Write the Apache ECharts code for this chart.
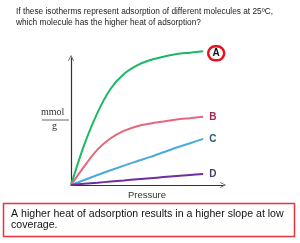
<!DOCTYPE html>
<html>
<head>
<meta charset="utf-8">
<script src="https://cdn.jsdelivr.net/npm/echarts@6/dist/echarts.min.js"></script>
<style>
  html, body { margin: 0; padding: 0; background: #fff; }
  #chart { width: 300px; height: 243px; }
</style>
</head>
<body>
<div id="chart"></div>
<script>
// pressure values (arbitrary units) and uptake
const pressure = [0, 1, 2, 3, 4, 5, 6, 7, 8, 9, 10];
const uptakeA = [0, 3.0, 5.4, 7.2, 8.3, 8.95, 9.35, 9.6, 9.8, 9.9, 10.0];
const uptakeB = [0, 1.4, 2.65, 3.5, 4.05, 4.4, 4.6, 4.75, 4.9, 5.0, 5.1];
const uptakeC = [0, 0.37, 0.75, 1.1, 1.45, 1.78, 2.1, 2.45, 2.8, 3.12, 3.45];
const uptakeD = [0, 0.09, 0.17, 0.26, 0.34, 0.43, 0.51, 0.59, 0.67, 0.75, 0.83];

const names = ['A', 'B', 'C', 'D'];
const lineColors = ['#1db865', '#e2687e', '#4ba9dc', '#6f2d9e'];
const labelColors = ['#111', '#a3294d', '#23577a', '#4b3a6e'];

const titleLines = [
  'If these isotherms represent adsorption of different molecules at 25\u00baC,',
  'which molecule has the higher heat of adsorption?'
];
const noteLines = [
  'A higher heat of adsorption results in a higher slope at low',
  'coverage.'
];

const pairs = ys => pressure.map((x, i) => [x, ys[i]]);
const seriesData = [pairs(uptakeA), pairs(uptakeB), pairs(uptakeC), pairs(uptakeD)];

// open chevron arrow for the axes
const chevron = 'path://M0,10 L5,0 L10,10 L9,10.6 L5,2.4 L1,10.6 Z';

const chart = echarts.init(document.getElementById('chart'));

const series = seriesData.map((data, i) => {
  const endLabel = {
    show: true,
    formatter: names[i],
    color: labelColors[i],
    fontFamily: 'Liberation Sans',
    fontWeight: 'bold',
    fontSize: 10,
    distance: 6
  };
  if (i === 0) {
    // circled answer
    Object.assign(endLabel, {
      borderColor: '#e8101c',
      borderWidth: 2.5,
      borderRadius: 10,
      width: 14,
      height: 12,
      align: 'center',
      verticalAlign: 'middle',
      padding: [1, 1, 1, 1],
      distance: 3,
      offset: [10, 2]
    });
  }
  return {
    type: 'line',
    name: names[i],
    data,
    smooth: 0.3,
    showSymbol: false,
    clip: false,
    silent: true,
    lineStyle: { color: lineColors[i], width: 2 },
    endLabel
  };
});

const option = {
  animation: false,
  title: {
    text: titleLines.join('\n'),
    left: 11,
    top: 1,
    textStyle: {
      fontFamily: 'Liberation Sans',
      fontSize: 8.3,
      fontWeight: 'normal',
      color: '#222',
      lineHeight: 11
    }
  },
  grid: { left: 71, top: 58, width: 152, height: 127 },
  xAxis: {
    type: 'value',
    min: 0,
    max: 11.5,
    name: 'Pressure',
    nameLocation: 'middle',
    nameGap: 5,
    nameTextStyle: { fontFamily: 'Liberation Sans', fontSize: 9.5, color: '#333' },
    axisLine: {
      lineStyle: { color: '#333', width: 1.2 },
      symbol: ['none', chevron],
      symbolSize: [9, 6]
    },
    axisTick: { show: false },
    axisLabel: { show: false },
    splitLine: { show: false }
  },
  yAxis: {
    type: 'value',
    min: 0,
    max: 9.5,
    axisLine: {
      show: true,
      lineStyle: { color: '#333', width: 1.2 },
      symbol: ['none', chevron],
      symbolSize: [9, 6]
    },
    axisTick: { show: false },
    axisLabel: { show: false },
    splitLine: { show: false }
  },
  graphic: [
    {
      type: 'text', left: 41, top: 107,
      style: { text: 'mmol', font: '10px "Liberation Serif"', fill: '#333' }
    },
    {
      type: 'line', shape: { x1: 42, y1: 120, x2: 69, y2: 120 },
      style: { stroke: '#555', lineWidth: 0.9 }
    },
    {
      type: 'text', left: 52, top: 121,
      style: { text: 'g', font: '10px "Liberation Serif"', fill: '#333' }
    },
    {
      type: 'rect', shape: { x: 3.5, y: 203.5, width: 291, height: 33 },
      style: { fill: '#fff', stroke: '#e8323c', lineWidth: 1.5 }
    },
    {
      type: 'text', left: 11, top: 208,
      style: {
        text: noteLines.join('\n'),
        font: '10.6px "Liberation Sans"',
        lineHeight: 11.5,
        fill: '#111'
      }
    }
  ],
  series
};

chart.setOption(option);
</script>
</body>
</html>
